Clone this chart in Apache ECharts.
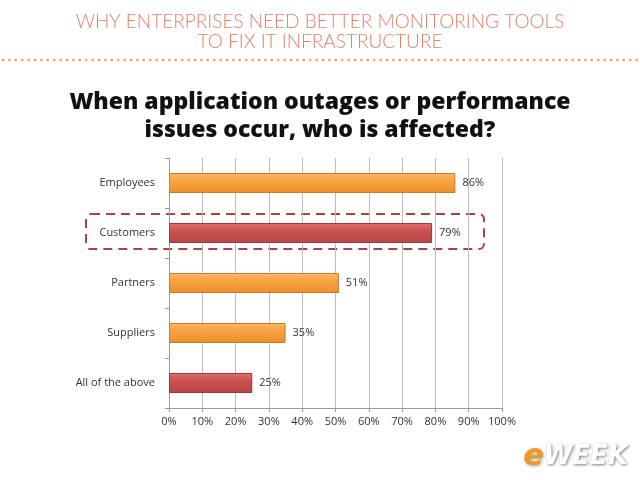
<!DOCTYPE html>
<html>
<head>
<meta charset="utf-8">
<script src="https://cdn.jsdelivr.net/npm/echarts@6/dist/echarts.min.js"></script>
<style>
  html, body { margin: 0; padding: 0; background: #fff; }
  #main { width: 640px; height: 480px; }
</style>
</head>
<body>
<div id="main"></div>
<script>
// data
var categories = ['Employees', 'Customers', 'Partners', 'Suppliers', 'All of the above'];
var values = [86, 79, 51, 35, 25];
var highlighted = [false, true, false, false, true];
var xTicks = [0, 10, 20, 30, 40, 50, 60, 70, 80, 90, 100];

var chart = echarts.init(document.getElementById('main'));

function barColor(red) {
  if (red) {
    return new echarts.graphic.LinearGradient(0, 0, 0, 1, [
      {offset: 0, color: '#e07372'},
      {offset: 0.35, color: '#cc5453'},
      {offset: 1, color: '#b84544'}
    ]);
  }
  return new echarts.graphic.LinearGradient(0, 0, 0, 1, [
    {offset: 0, color: '#fbbb6a'},
    {offset: 0.35, color: '#f9a444'},
    {offset: 1, color: '#ec8f2c'}
  ]);
}

// dotted separator under the header
var dots = [];
for (var x = 3; x < 640; x += 6.4) {
  dots.push({type: 'circle', shape: {cx: x, cy: 60, r: 1.3}, style: {fill: '#e8a33a'}, silent: true});
}

var option = {
  backgroundColor: '#fff',
  animation: false,
  grid: {left: 169, right: 138, top: 158, bottom: 72},
  xAxis: {
    type: 'value',
    min: 0,
    max: 100,
    interval: 10,
    axisLine: {show: true, lineStyle: {color: '#999'}},
    axisTick: {show: true, length: 4, lineStyle: {color: '#999'}},
    splitLine: {show: true, lineStyle: {color: '#bdbdbd'}},
    axisLabel: {
      formatter: function (v) { return xTicks.indexOf(v) >= 0 ? v + '%' : ''; },
      color: '#333', fontSize: 11, fontFamily: 'Open Sans', margin: 8
    }
  },
  yAxis: {
    type: 'category',
    inverse: true,
    data: categories,
    axisLine: {show: true, lineStyle: {color: '#999'}},
    axisTick: {show: true, length: 4, lineStyle: {color: '#999'}},
    axisLabel: {color: '#333', fontSize: 11, fontFamily: 'Open Sans', margin: 14}
  },
  series: [{
    type: 'bar',
    barWidth: 20,
    data: values.map(function (v, i) {
      return {
        value: v,
        itemStyle: {
          color: barColor(highlighted[i]),
          borderColor: highlighted[i] ? '#9e3a39' : '#c97a2a',
          borderWidth: 1
        }
      };
    }),
    label: {
      show: true,
      position: 'right',
      distance: 7,
      formatter: '{c}%',
      color: '#333',
      fontSize: 11,
      fontFamily: 'Open Sans'
    }
  }],
  graphic: [
    {
      type: 'text', x: 320, y: 12,
      style: {
        text: 'WHY ENTERPRISES NEED BETTER MONITORING TOOLS\nTO FIX IT INFRASTRUCTURE',
        fill: '#e0826a', font: '300 19px Lato', align: 'center', textAlign: 'center', lineHeight: 20
      }
    },
    {
      type: 'text', x: 320, y: 88,
      style: {
        text: 'When application outages or performance\nissues occur, who is affected?',
        fill: '#111', font: '800 23px "Open Sans"', align: 'center', textAlign: 'center', lineHeight: 28
      }
    },
    {
      type: 'rect',
      shape: {x: 86, y: 214, width: 398, height: 35, r: 5},
      style: {fill: 'none', stroke: '#a94443', lineWidth: 2, lineDash: [9, 6]},
      silent: true
    },
    {
      type: 'text', right: 12, top: 442,
      style: {
        rich: {
          e: {fill: '#f29a1f', font: 'italic bold 30px "DejaVu Sans"', textShadowColor: 'rgba(0,0,0,0.4)', textShadowBlur: 3, textShadowOffsetX: 1, textShadowOffsetY: 1},
          w: {fill: '#fff', font: 'italic bold 26px "DejaVu Sans"', textStroke: '#444', lineWidth: 1, textShadowColor: 'rgba(0,0,0,0.5)', textShadowBlur: 3, textShadowOffsetX: 1, textShadowOffsetY: 1}
        },
        text: '{e|e}{w|WEEK}'
      }
    }
  ].concat(dots)
};

chart.setOption(option);
</script>
</body>
</html>
